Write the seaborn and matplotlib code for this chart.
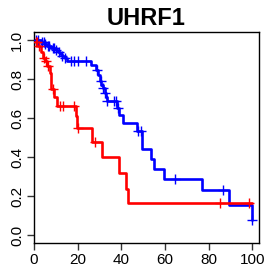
import numpy as np
import pandas as pd
import matplotlib
matplotlib.use("Agg")
import matplotlib.pyplot as plt
import seaborn as sns

# === DATA : Kaplan-Meier steps (time, survival after step) ===
blue_time = [0, 3, 5, 6, 8, 10, 11, 12, 13, 14, 15, 26, 28.4, 29.5, 30, 30.8, 31.5,
             32.3, 33, 33.5, 37.9, 39, 40.9, 47, 49.6, 53.6, 55, 59.5, 77, 89.2, 100]
blue_surv = [1.0, 0.99, 0.98, 0.97, 0.96, 0.95, 0.94, 0.93, 0.92, 0.91, 0.893, 0.872,
             0.847, 0.82, 0.79, 0.77, 0.755, 0.73, 0.71, 0.685, 0.65, 0.614, 0.575,
             0.536, 0.442, 0.391, 0.34, 0.29, 0.231, 0.155, 0.078]
blue_cens = [1, 2, 3.5, 4.5, 5, 6.5, 7, 8.5, 9, 10, 11.5, 13, 14, 17, 18.5, 20, 24,
             29, 30.5, 31.5, 32.5, 33.5, 36.5, 37.5, 38.5, 47.5, 49, 64.5, 86.5, 100]

red_time = [0, 1, 2, 3, 4, 5, 6, 7.5, 8, 9, 10.5, 19, 19.5, 26.5, 31, 39, 42, 43, 100]
red_surv = [1.0, 0.99, 0.97, 0.94, 0.91, 0.89, 0.865, 0.833, 0.75, 0.71, 0.663, 0.61,
            0.549, 0.476, 0.398, 0.32, 0.238, 0.163, 0.163]
red_cens = [1, 1.5, 2.5, 4.5, 5.5, 6.5, 8.5, 12, 13.5, 18.5, 20, 28, 85, 98.5]

x_ticks = [0, 20, 40, 60, 80, 100]
y_ticks = [0.0, 0.2, 0.4, 0.6, 0.8, 1.0]


def censor_points(times, surv, cens):
    idx = np.searchsorted(times, cens, side="right") - 1
    return pd.DataFrame({"t": cens, "s": np.array(surv)[idx]})


sns.set_style("white")
plt.rcParams["font.family"] = ["Liberation Sans", "DejaVu Sans"]

fig = plt.figure(figsize=(2.70, 2.77), dpi=100)
ax = fig.add_axes([0.126, 0.123, 0.833, 0.761])

for times, surv, cens, col in [(blue_time, blue_surv, blue_cens, "#0000FF"),
                               (red_time, red_surv, red_cens, "#FF0000")]:
    df = pd.DataFrame({"t": times, "s": surv})
    sns.lineplot(data=df, x="t", y="s", drawstyle="steps-post", estimator=None,
                 color=col, linewidth=1.9, ax=ax)
    cp = censor_points(times, surv, cens)
    sns.scatterplot(data=cp, x="t", y="s", marker="+", color=col, s=45,
                    linewidth=1.0, ax=ax, zorder=3)

ax.set_xlim(0, 103)
ax.set_ylim(-0.04, 1.04)
ax.set_xticks(x_ticks)
ax.set_yticks(y_ticks)
ax.set_xticklabels([str(v) for v in x_ticks], fontsize=11)
ax.set_yticklabels([f"{v:.1f}" for v in y_ticks], fontsize=11, rotation=90, va="center")
ax.tick_params(axis="both", direction="out", length=5, width=1, color="#333333",
               labelcolor="black", bottom=True, left=True, pad=2)
ax.set_xlabel("")
ax.set_ylabel("")
for sp in ax.spines.values():
    sp.set_color("black")
    sp.set_linewidth(1)

ax.set_title("UHRF1", fontsize=17, fontweight="bold", color="black", pad=5)

fig.savefig("out.png", dpi=100)
plt.close(fig)
